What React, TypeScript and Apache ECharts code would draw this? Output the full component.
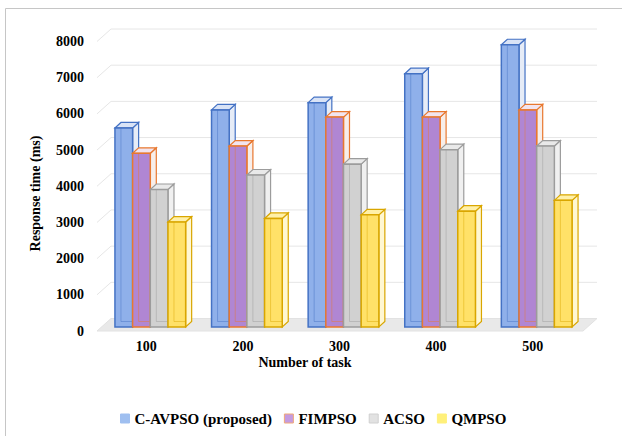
import React, { useEffect, useRef } from 'react';
import * as echarts from 'echarts';

const categories = ['100', '200', '300', '400', '500'];
const seriesNames = ['C-AVPSO (proposed)', 'FIMPSO', 'ACSO', 'QMPSO'];
const cavpso = [5500, 6000, 6200, 7000, 7800];
const fimpso = [4800, 5000, 5800, 5800, 6000];
const acso = [3800, 4200, 4500, 4900, 5000];
const qmpso = [2900, 3000, 3100, 3200, 3500];
const yTicks = [1000, 2000, 3000, 4000, 5000, 6000, 7000, 8000];

const FONT = 'Liberation Serif';

const palettes = [
  { front: '#8fb0ea', border: '#4472c4', side: '#e6ecf7', top: '#d9e3f6', legend: '#9fbff0', legendBorder: '#9fbff0' },
  { front: '#b086d3', border: '#e8782f', side: '#f7eeea', top: '#f2e4ee', legend: '#c49be0', legendBorder: '#f0a878' },
  { front: '#d1d1d1', border: '#9c9c9c', side: '#f0f0f0', top: '#e9e9e9', legend: '#e2e2e2', legendBorder: '#d0d0d0' },
  { front: '#ffe168', border: '#d9a600', side: '#fff7d2', top: '#fff0a8', legend: '#fff07a', legendBorder: '#fff07a' },
];

const DX = 6;
const DY = 5.5;

function makeBarRender(k: number) {
  const pal = palettes[k];
  return (params: any, api: any) => {
    const idx = api.value(0);
    const val = api.value(1);
    const top = api.coord([idx, val]);
    const base = api.coord([idx, 0]);
    const band = api.size([1, 0])[0];
    const w = band * 0.183;
    const x0 = top[0] + 4 + (k - 2) * w;
    const yt = top[1] - 4;
    const yb = base[1] - 4;
    const x1 = x0 + w;
    return {
      type: 'group',
      children: [
        {
          type: 'polygon',
          shape: { points: [[x1, yt], [x1 + DX, yt - DY], [x1 + DX, yb - DY], [x1, yb]] },
          style: { fill: pal.side, stroke: pal.border, lineWidth: 1.2 },
        },
        {
          type: 'polygon',
          shape: { points: [[x0, yt], [x0 + DX, yt - DY], [x1 + DX, yt - DY], [x1, yt]] },
          style: { fill: pal.top, stroke: pal.border, lineWidth: 1.2 },
        },
        {
          type: 'rect',
          shape: { x: x0, y: yt, width: w, height: yb - yt },
          style: { fill: pal.front, stroke: pal.border, lineWidth: 1.5 },
        },
        {
          type: 'polyline',
          shape: { points: [[x0 + DX, yt], [x0 + DX, yb - DY], [x1, yb - DY]] },
          style: { fill: null, stroke: pal.border, lineWidth: 1, opacity: 0.45 },
        },
      ],
    };
  };
}

export default function App() {
  const ref = useRef<HTMLDivElement>(null);
  useEffect(() => {
    if (!ref.current) return;
    const chart = echarts.init(ref.current, null, { renderer: 'svg' });
    const seriesData = [cavpso, fimpso, acso, qmpso];
    const barSeries = seriesData.map((arr, k) => ({
      type: 'custom',
      name: seriesNames[k],
      renderItem: makeBarRender(k),
      clip: false,
      itemStyle: { color: palettes[k].legend },
      data: arr.map((v, i) => [i, v]),
      z: 5,
    }));
    chart.setOption({
      animation: false,
      backgroundColor: '#ffffff',
      textStyle: { fontFamily: FONT },
      grid: { left: 98, right: 41, top: 41.5, bottom: 105 },
      xAxis: {
        type: 'category',
        data: categories,
        axisLine: { show: false },
        axisTick: { show: false },
        axisLabel: { color: '#000', fontWeight: 'bold', fontSize: 14, fontFamily: FONT, margin: 8 },
        splitLine: { show: false },
      },
      yAxis: {
        type: 'value',
        min: 0,
        max: 8000,
        interval: 1000,
        axisLine: { show: false },
        axisTick: { show: false },
        splitLine: { show: false },
        axisLabel: {
          color: '#000',
          fontWeight: 'bold',
          fontSize: 14,
          fontFamily: FONT,
          margin: 14,
          formatter: (v: number) => String(v),
        },
      },
      legend: {
        left: 115,
        top: 406,
        icon: 'rect',
        itemWidth: 9,
        itemHeight: 9,
        itemGap: 12,
        textStyle: { color: '#000', fontWeight: 'bold', fontSize: 15, fontFamily: FONT },
        data: seriesNames.map((n, k) => ({
          name: n,
          itemStyle: { color: palettes[k].legend, borderColor: palettes[k].legendBorder, borderWidth: 1 },
        })),
      },
      graphic: [
        {
          type: 'rect',
          shape: { x: 5.5, y: 8.5, width: 700, height: 500 },
          style: { fill: 'none', stroke: '#c6c6c6', lineWidth: 1 },
          silent: true,
        },
        {
          type: 'text',
          x: 35,
          y: 193.5,
          rotation: Math.PI / 2,
          style: {
            text: 'Response time (ms)',
            fill: '#000',
            font: 'bold 14px Liberation Serif',
            align: 'center',
            verticalAlign: 'middle',
          },
        },
        {
          type: 'text',
          x: 305,
          y: 362,
          style: {
            text: 'Number of task',
            fill: '#000',
            font: 'bold 14px Liberation Serif',
            align: 'center',
            verticalAlign: 'middle',
          },
        },
      ],
      series: [
        {
          type: 'custom',
          clip: false,
          silent: true,
          z: 1,
          data: [[0, 0]],
          renderItem: (params: any, api: any) => {
            const cs = params.coordSys;
            const y = api.coord([0, 0])[1];
            return {
              type: 'polygon',
              shape: {
                points: [
                  [cs.x - 1, y],
                  [cs.x + 13, y - 12.5],
                  [cs.x + cs.width + 16, y - 12.5],
                  [cs.x + cs.width + 2, y],
                ],
              },
              style: { fill: '#e9e9e9', stroke: '#e2e2e2', lineWidth: 1 },
            };
          },
        },
        {
          type: 'custom',
          clip: false,
          silent: true,
          z: 2,
          data: yTicks.map((v) => [0, v]),
          renderItem: (params: any, api: any) => {
            const cs = params.coordSys;
            const y = api.coord([0, api.value(1)])[1];
            return {
              type: 'polyline',
              shape: {
                points: [
                  [cs.x - 1, y],
                  [cs.x + 13, y - 12.5],
                  [cs.x + cs.width + 16, y - 12.5],
                ],
              },
              style: { fill: null, stroke: '#e6e6e6', lineWidth: 1 },
            };
          },
        },
        ...barSeries,
      ],
    });
    return () => chart.dispose();
  }, []);
  return <div ref={ref} style={{ position: 'absolute', left: 0, top: 0, width: 622, height: 436 }} />;
}
